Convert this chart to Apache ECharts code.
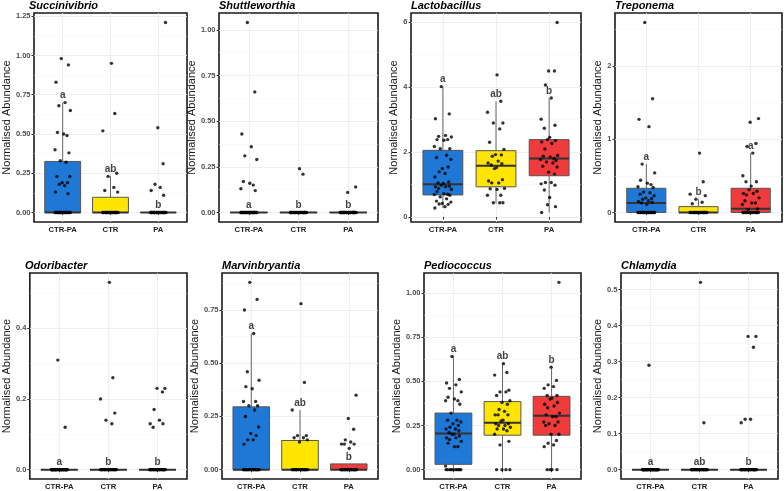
<!DOCTYPE html>
<html><head><meta charset="utf-8">
<script src="https://cdn.jsdelivr.net/npm/echarts@6/dist/echarts.min.js"></script>
<style>html,body{margin:0;padding:0;background:#fff}#c{width:784px;height:491px}</style>
</head><body><div id="c"></div>
<script>
// ---------- DATA ----------
const CATEGORIES = ['CTR-PA', 'CTR', 'PA'];
const GENERA = ['Succinivibrio', 'Shuttleworthia', 'Lactobacillus', 'Treponema',
                'Odoribacter', 'Marvinbryantia', 'Pediococcus', 'Chlamydia'];
const Y_TITLE = 'Normalised Abundance';

// Succinivibrio
const succ_ctrpa = [0.98,0.94,0.83,0.70,0.68,0.65,0.51,0.50,0.49,0.40,0.38,0.33,0.32,0.23,0.23,0.19,0.19,0.18,0.17,0.13,0.12,
  0,0,0,0,0,0,0,0,0,0, 0,0,0,0,0,0,0,0,0,0, 0,0];
const succ_ctr = [0.95,0.63,0.52,0.25,0.23,0.16,0.14,0.13,
  0,0,0,0,0,0,0,0,0,0, 0,0,0,0,0,0,0,0,0,0, 0];
const succ_pa = [1.21,0.54,0.31,0.18,0.16,0.14,0.11,
  0,0,0,0,0,0,0,0,0,0, 0,0,0,0,0,0,0,0,0,0, 0,0,0,0,0,0,0,0];
const succ_box = [[0,0,0,0.325,0.70],[0,0,0,0.097,0.23],[0,0,0,0,0]];
const succ_letters = ['a','ab','b'];
const succ_ticks = [0,0.25,0.5,0.75,1,1.25];

// Shuttleworthia
const shut_ctrpa = [1.04,0.66,0.43,0.36,0.31,0.29,0.17,0.16,0.15,0.13,0.12,
  0,0,0,0,0,0,0,0,0,0, 0,0,0,0,0,0,0,0,0,0, 0,0,0,0,0,0,0,0,0,0, 0,0];
const shut_ctr = [0.24,0.21,
  0,0,0,0,0,0,0,0,0,0, 0,0,0,0,0,0,0,0,0,0, 0,0,0,0,0,0,0];
const shut_pa = [0.14,0.11,
  0,0,0,0,0,0,0,0,0,0, 0,0,0,0,0,0,0,0,0,0, 0,0,0,0,0,0,0,0,0,0, 0,0,0];
const shut_box = [[0,0,0,0,0],[0,0,0,0,0],[0,0,0,0,0]];
const shut_letters = ['a','b','b'];
const shut_ticks = [0,0.25,0.5,0.75,1];

// Lactobacillus
const lact_ctrpa = [4.01,3.17,3.02,2.51,2.48,2.46,2.38,2.36,2.38,2.17,2.10,2.10,1.90,1.83,1.77,1.49,1.54,1.39,1.34,1.23,
  1.08,1.05,1.03,0.98,0.95,0.93,0.93,0.88,0.85,0.78,0.72,0.70,0.69,0.67,0.62,0.56,0.49,0.46,0.42,0.39,0.40,0.32,0.28];
const lact_ctr = [4.37,3.56,3.22,2.89,2.89,2.71,2.30,2.08,1.92,1.91,1.87,1.72,1.66,1.64,1.60,1.52,1.49,1.15,1.11,1.05,1.05,
  0.88,0.87,0.85,0.67,0.67,0.44,0.44,0.44];
const lact_pa = [5.98,4.49,4.49,4.06,3.66,3.01,2.82,2.73,2.45,2.38,2.35,2.31,2.26,2.09,1.89,1.87,1.85,1.80,1.77,1.74,1.69,1.66,
  1.56,1.54,1.38,1.32,1.06,1.06,1.02,0.98,0.83,0.60,0.38,0.32,0.14];
const lact_box = [[0.28,0.68,1.01,2.05,4.01],[0.42,0.93,1.58,2.04,3.56],[0.14,1.27,1.80,2.38,3.66]];
const lact_letters = ['a','ab','b'];
const lact_ticks = [0,2,4,6];

// Treponema
const trep_ctrpa = [2.59,1.55,1.27,1.17,0.66,0.54,0.44,0.40,0.38,0.35,0.34,0.28,0.27,0.25,0.23,0.20,0.19,0.18,0.16,0.15,0.14,0.13,0.11,
  0,0,0,0,0,0,0,0,0,0, 0,0,0,0,0,0,0,0,0,0];
const trep_ctr = [0.81,0.42,0.25,0.23,0.18,0.14,0.12,
  0,0,0,0,0,0,0,0,0,0, 0,0,0,0,0,0,0,0,0,0, 0,0];
const trep_pa = [1.28,1.23,0.94,0.90,0.81,0.50,0.42,0.42,0.36,0.31,0.29,0.26,0.26,0.24,0.20,0.16,0.13,0.13,0.11,0.05,0.04,
  0,0,0,0,0,0,0,0,0,0, 0,0,0,0];
const trep_box = [[0,0,0.13,0.33,0.66],[0,0,0,0.08,0.18],[0,0,0.05,0.33,0.81]];
const trep_letters = ['a','b','a'];
const trep_ticks = [0,1,2];

// Odoribacter
const odor_ctrpa = [0.31,0.12,
  0,0,0,0,0,0,0,0,0,0, 0,0,0,0,0,0,0,0,0,0, 0,0,0,0,0,0,0,0,0,0, 0,0,0,0,0,0,0,0,0,0, 0];
const odor_ctr = [0.53,0.26,0.20,0.16,0.14,0.13,
  0,0,0,0,0,0,0,0,0,0, 0,0,0,0,0,0,0,0,0,0, 0,0,0];
const odor_pa = [0.23,0.23,0.22,0.17,0.14,0.13,0.13,0.12,
  0,0,0,0,0,0,0,0,0,0, 0,0,0,0,0,0,0,0,0,0, 0,0,0,0,0,0,0];
const odor_box = [[0,0,0,0,0],[0,0,0,0,0],[0,0,0,0,0]];
const odor_letters = ['a','b','b'];
const odor_ticks = [0,0.2,0.4];

// Marvinbryantia
const marv_ctrpa = [0.88,0.80,0.75,0.64,0.46,0.42,0.39,0.38,0.32,0.32,0.30,0.30,0.28,0.25,0.20,0.17,0.16,0.14,0.14,0.12,
  0,0,0,0,0,0,0,0,0,0, 0,0,0,0,0,0,0,0,0,0, 0,0,0];
const marv_ctr = [0.78,0.41,0.28,0.16,0.16,0.15,0.15,0.14,0.13,
  0,0,0,0,0,0,0,0,0,0, 0,0,0,0,0,0,0,0,0,0];
const marv_pa = [0.35,0.24,0.19,0.14,0.13,0.12,0.12,0.12,0.10,
  0,0,0,0,0,0,0,0,0,0, 0,0,0,0,0,0,0,0,0,0, 0,0,0,0,0,0];
const marv_box = [[0,0,0,0.295,0.64],[0,0,0,0.137,0.28],[0,0,0,0.027,0.027]];
const marv_letters = ['a','ab','b'];
const marv_ticks = [0,0.25,0.5,0.75];

// Pediococcus
const pedi_ctrpa = [0.64,0.51,0.49,0.48,0.46,0.44,0.41,0.40,0.39,0.39,0.37,0.32,0.28,0.28,0.27,0.26,0.25,0.24,0.23,0.23,0.22,
  0.21,0.20,0.20,0.19,0.18,0.18,0.17,0.16,0.15,0.13,0.13,0.02, 0,0,0,0,0,0,0,0,0,0];
const pedi_ctr = [0.60,0.55,0.535,0.45,0.44,0.44,0.42,0.39,0.38,0.37,0.34,0.33,0.31,0.31,0.31,0.28,0.275,0.26,0.26,0.25,0.25,
  0.24,0.23,0.23,0.22,0.20,0.16,0.14, 0,0,0,0];
const pedi_pa = [1.06,0.58,0.505,0.48,0.47,0.46,0.42,0.42,0.405,0.40,0.38,0.37,0.36,0.35,0.32,0.31,0.30,0.30,0.27,0.27,0.26,
  0.25,0.25,0.20,0.20,0.165,0.15,0.14,0.13, 0,0,0,0];
const pedi_box = [[0,0.03,0.205,0.32,0.64],[0,0.195,0.265,0.385,0.60],[0,0.195,0.305,0.415,0.58]];
const pedi_letters = ['a','ab','b'];
const pedi_ticks = [0,0.25,0.5,0.75,1];

// Chlamydia
const chla_ctrpa = [0.29,
  0,0,0,0,0,0,0,0,0,0, 0,0,0,0,0,0,0,0,0,0, 0,0,0,0,0,0,0,0,0,0, 0,0,0,0,0,0,0,0,0,0, 0,0];
const chla_ctr = [0.52,0.13,
  0,0,0,0,0,0,0,0,0,0, 0,0,0,0,0,0,0,0,0,0, 0,0,0,0,0,0,0];
const chla_pa = [0.37,0.37,0.34,0.14,0.14,0.13,
  0,0,0,0,0,0,0,0,0,0, 0,0,0,0,0,0,0,0,0,0, 0,0,0,0,0,0,0,0,0];
const chla_box = [[0,0,0,0,0],[0,0,0,0,0],[0,0,0,0,0]];
const chla_letters = ['a','ab','b'];
const chla_ticks = [0,0.1,0.2,0.3,0.4,0.5];

// ---------- LAYOUT / STYLE ----------
const LAYOUT = [
  {l:29,  r:187, t:13,  b:222, gap:17, tt:0},
  {l:219, r:378, t:13,  b:222, gap:15, tt:0},
  {l:411, r:581, t:13,  b:222, gap:7,  tt:0},
  {l:615, r:782, t:13,  b:222, gap:11, tt:0},
  {l:25,  r:187, t:273, b:481, gap:12, tt:260},
  {l:222, r:378, t:273, b:481, gap:18, tt:260},
  {l:424, r:581, t:273, b:481, gap:18, tt:260},
  {l:621, r:778, t:273, b:481, gap:15, tt:260}
];
const DECIMALS = [2,2,0,0,1,2,2,1];
const BOX_COLORS = ['#1f78d6', '#ffe500', '#ef3b3b'];
const JITTER = [-0.03,0.12,-0.14,0.05,-0.08,0.16,-0.11,0.02,0.09,-0.16,0.13,-0.05,0.07,-0.12,0.15,-0.01,0.10,-0.07,0.04,-0.15,0.11,-0.09,0.01];
const BOX_W = 0.75;
const FONT = '"Liberation Sans", Arial, Helvetica, sans-serif';

const PANELS = [
  {groups:[succ_ctrpa, succ_ctr, succ_pa], box:succ_box, letters:succ_letters, ticks:succ_ticks},
  {groups:[shut_ctrpa, shut_ctr, shut_pa], box:shut_box, letters:shut_letters, ticks:shut_ticks},
  {groups:[lact_ctrpa, lact_ctr, lact_pa], box:lact_box, letters:lact_letters, ticks:lact_ticks},
  {groups:[trep_ctrpa, trep_ctr, trep_pa], box:trep_box, letters:trep_letters, ticks:trep_ticks},
  {groups:[odor_ctrpa, odor_ctr, odor_pa], box:odor_box, letters:odor_letters, ticks:odor_ticks},
  {groups:[marv_ctrpa, marv_ctr, marv_pa], box:marv_box, letters:marv_letters, ticks:marv_ticks},
  {groups:[pedi_ctrpa, pedi_ctr, pedi_pa], box:pedi_box, letters:pedi_letters, ticks:pedi_ticks},
  {groups:[chla_ctrpa, chla_ctr, chla_pa], box:chla_box, letters:chla_letters, ticks:chla_ticks}
];

const option = {animation:false, backgroundColor:'#fff', title:[], grid:[], xAxis:[], yAxis:[], series:[]};

PANELS.forEach((p, i) => {
  const L = LAYOUT[i];
  let lo = Infinity, hi = -Infinity;
  p.groups.forEach(g => g.forEach(v => { lo = Math.min(lo, v); hi = Math.max(hi, v); }));
  p.box.forEach(b => b.forEach(v => { lo = Math.min(lo, v); hi = Math.max(hi, v); }));
  const span = hi - lo;
  const ymin = lo - 0.05 * span, ymax = hi + 0.05 * span;
  const step = p.ticks[1] - p.ticks[0];
  const minors = [];
  if (p.ticks[0] - step / 2 >= ymin) minors.push(p.ticks[0] - step / 2);
  p.ticks.forEach(t => { if (t + step / 2 <= ymax) minors.push(t + step / 2); });
  const dec = DECIMALS[i];

  option.title.push({
    text: GENERA[i], left: L.l, top: L.tt, padding: 0,
    textStyle: {fontFamily: FONT, fontStyle: 'italic', fontWeight: 'bold', fontSize: 11, color: '#000'}
  });
  option.grid.push({
    left: L.l, top: L.t, width: L.r - L.l, height: L.b - L.t,
    show: true, borderColor: '#1a1a1a', borderWidth: 1.6, backgroundColor: '#fff'
  });
  option.xAxis.push({
    type: 'value', gridIndex: i, min: 0.4, max: 3.6,
    axisLine: {show: false},
    axisTick: {show: true, length: 2.5, customValues: [1,2,3], lineStyle: {color: '#333'}},
    axisLabel: {customValues: [1,2,3], formatter: v => CATEGORIES[Math.round(v) - 1],
      fontSize: 7.7, fontWeight: 'bold', color: '#222', fontFamily: FONT, margin: 4},
    splitLine: {show: true, lineStyle: {color: '#ebebeb', width: 0.8}}
  });
  option.yAxis.push({
    type: 'value', gridIndex: i, min: ymin, max: ymax,
    name: Y_TITLE, nameLocation: 'middle', nameGap: L.gap,
    nameTextStyle: {fontSize: 11, color: '#1a1a1a', fontFamily: FONT},
    axisLine: {show: false},
    axisTick: {show: true, length: 2.5, customValues: p.ticks, lineStyle: {color: '#333'}},
    axisLabel: {customValues: p.ticks, formatter: v => Number(v).toFixed(dec),
      fontSize: 7.5, fontWeight: 'bold', color: '#4d4d4d', fontFamily: FONT, margin: 3.5},
    splitLine: {show: true, lineStyle: {color: '#ebebeb', width: 0.8}}
  });
  option.yAxis.push({
    type: 'value', gridIndex: i, min: ymin, max: ymax,
    axisLine: {show: false},
    axisTick: {show: false, customValues: minors},
    axisLabel: {show: false, customValues: minors},
    splitLine: {show: true, lineStyle: {color: '#f4f4f4', width: 0.5}}
  });

  option.series.push({
    type: 'custom', xAxisIndex: i, yAxisIndex: 2 * i, silent: true, z: 2,
    data: p.box.map((b, k) => [k + 1].concat(b)),
    encode: {x: 0, y: [1,2,3,4,5]},
    renderItem: (params, api) => {
      const x = api.value(0), mn = api.value(1), q1 = api.value(2), md = api.value(3), q3 = api.value(4), mx = api.value(5);
      const hw = BOX_W / 2;
      const tl = api.coord([x - hw, q3]), br = api.coord([x + hw, q1]);
      const pMax = api.coord([x, mx]), pQ3 = api.coord([x, q3]);
      const pMin = api.coord([x, mn]), pQ1 = api.coord([x, q1]);
      const mL = api.coord([x - hw, md]), mR = api.coord([x + hw, md]);
      return {type: 'group', children: [
        {type: 'line', shape: {x1: pMax[0], y1: pMax[1], x2: pQ3[0], y2: pQ3[1]}, style: {stroke: '#666', lineWidth: 1}},
        {type: 'line', shape: {x1: pQ1[0], y1: pQ1[1], x2: pMin[0], y2: pMin[1]}, style: {stroke: '#666', lineWidth: 1}},
        {type: 'rect', shape: {x: tl[0], y: tl[1], width: br[0] - tl[0], height: br[1] - tl[1]},
          style: {fill: BOX_COLORS[params.dataIndex], stroke: '#555', lineWidth: 1}},
        {type: 'line', shape: {x1: mL[0], y1: mL[1], x2: mR[0], y2: mR[1]}, style: {stroke: '#333', lineWidth: 2}}
      ]};
    }
  });

  const pts = [];
  p.groups.forEach((g, k) => g.forEach((v, j) => {
    pts.push([k + 1 + JITTER[(j + 7 * k) % JITTER.length], v]);
  }));
  option.series.push({
    type: 'scatter', xAxisIndex: i, yAxisIndex: 2 * i, silent: true, z: 3,
    symbolSize: 3.4, itemStyle: {color: '#000'}, data: pts
  });

  option.series.push({
    type: 'scatter', xAxisIndex: i, yAxisIndex: 2 * i, silent: true, z: 4,
    symbolSize: 0.1, itemStyle: {color: 'rgba(0,0,0,0)'},
    data: p.box.map((b, k) => [k + 1, b[4]]),
    label: {show: true, position: 'top', distance: 2,
      formatter: prm => p.letters[prm.dataIndex],
      fontSize: 10, fontWeight: 'bold', color: '#111', fontFamily: FONT}
  });
});

const chart = echarts.init(document.getElementById('c'), null, {renderer: 'canvas'});
chart.setOption(option);
</script>
</body></html>
